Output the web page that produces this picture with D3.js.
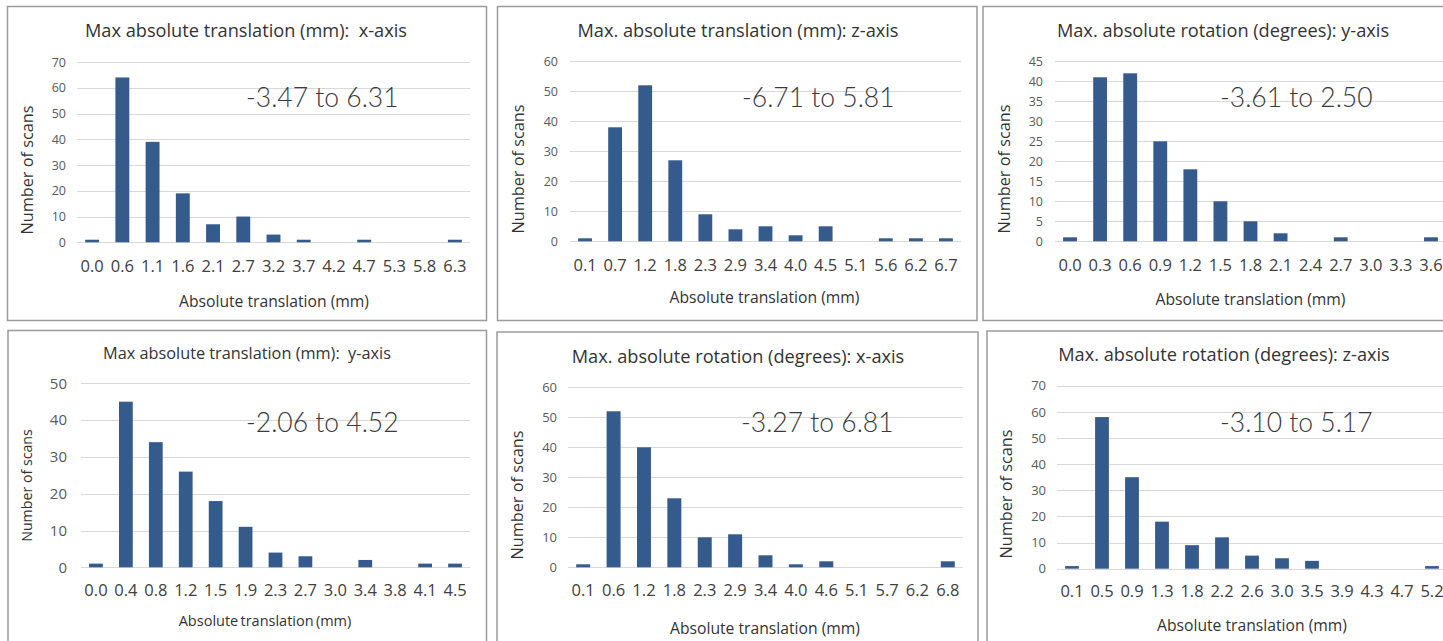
<!DOCTYPE html>
<html>
<head>
<meta charset="utf-8">
<script src="https://cdn.jsdelivr.net/npm/d3@7/dist/d3.min.js"></script>
<style>
  body { margin: 0; background: #fff; }
  svg text { font-family: "Open Sans", Lato, sans-serif; }
</style>
</head>
<body>
<div id="my_dataviz"></div>
<script>
// bin labels (x) and counts (y) for every histogram
var binsTransX   = ["0.0","0.6","1.1","1.6","2.1","2.7","3.2","3.7","4.2","4.7","5.3","5.8","6.3"];
var countsTransX = [1, 64, 39, 19, 7, 10, 3, 1, 0, 1, 0, 0, 1];
var ticksTransX  = [0, 10, 20, 30, 40, 50, 60, 70];

var binsTransZ   = ["0.1","0.7","1.2","1.8","2.3","2.9","3.4","4.0","4.5","5.1","5.6","6.2","6.7"];
var countsTransZ = [1, 38, 52, 27, 9, 4, 5, 2, 5, 0, 1, 1, 1];
var ticksTransZ  = [0, 10, 20, 30, 40, 50, 60];

var binsRotY     = ["0.0","0.3","0.6","0.9","1.2","1.5","1.8","2.1","2.4","2.7","3.0","3.3","3.6"];
var countsRotY   = [1, 41, 42, 25, 18, 10, 5, 2, 0, 1, 0, 0, 1];
var ticksRotY    = [0, 5, 10, 15, 20, 25, 30, 35, 40, 45];

var binsTransY   = ["0.0","0.4","0.8","1.2","1.5","1.9","2.3","2.7","3.0","3.4","3.8","4.1","4.5"];
var countsTransY = [1, 45, 34, 26, 18, 11, 4, 3, 0, 2, 0, 1, 1];
var ticksTransY  = [0, 10, 20, 30, 40, 50];

var binsRotX     = ["0.1","0.6","1.2","1.8","2.3","2.9","3.4","4.0","4.6","5.1","5.7","6.2","6.8"];
var countsRotX   = [1, 52, 40, 23, 10, 11, 4, 1, 2, 0, 0, 0, 2];
var ticksRotX    = [0, 10, 20, 30, 40, 50, 60];

var binsRotZ     = ["0.1","0.5","0.9","1.3","1.8","2.2","2.6","3.0","3.5","3.9","4.3","4.7","5.2"];
var countsRotZ   = [1, 58, 35, 18, 9, 12, 5, 4, 3, 0, 0, 0, 1];
var ticksRotZ    = [0, 10, 20, 30, 40, 50, 60, 70];

var titles = [
  "Max absolute translation (mm):  x-axis",
  "Max. absolute translation (mm): z-axis",
  "Max. absolute rotation (degrees): y-axis",
  "Max absolute translation (mm):  y-axis",
  "Max. absolute rotation (degrees): x-axis",
  "Max. absolute rotation (degrees): z-axis"
];
var ranges = ["-3.47 to 6.31", "-6.71 to 5.81", "-3.61 to 2.50", "-2.06 to 4.52", "-3.27 to 6.81", "-3.10 to 5.17"];
var xTitle = "Absolute translation (mm)";
var yTitle = "Number of scans";

var barColor = "#355b8d";

// layout of each panel (box = border, plot = l/r/top/bottom of the value area)
var panels = [
  { bins: binsTransX, counts: countsTransX, ticks: ticksTransX,
    box: [7.5, 6.5, 486.5, 320.5], plot: [77, 470, 62, 242.3],
    tx: 246, ty: 37, ts: 18.2, ax: 246, ay: 107, yl: 66, ys: 12.5, xly: 272, xs: 16.5,
    xtx: 274, xty: 307, xts: 15.7, xws: 0, ytx: 33, yty: 170, yts: 16.3 },
  { bins: binsTransZ, counts: countsTransZ, ticks: ticksTransZ,
    box: [497.5, 6.5, 977, 320.5], plot: [570, 961, 61.3, 241.3],
    tx: 738, ty: 37, ts: 18.2, ax: 742, ay: 107, yl: 558, ys: 12.5, xly: 271, xs: 16.5,
    xtx: 764.5, xty: 303, xts: 15.7, xws: 0, ytx: 524, yty: 169, yts: 16.3 },
  { bins: binsRotY, counts: countsRotY, ticks: ticksRotY,
    box: [983, 6.5, 1452, 320.5], plot: [1055, 1446, 61.3, 241.3],
    tx: 1223, ty: 37, ts: 18.2, ax: 1220, ay: 107, yl: 1043, ys: 12.5, xly: 271, xs: 16.5,
    xtx: 1250.5, xty: 305, xts: 15.7, xws: 0, ytx: 1010, yty: 169, yts: 16.3 },
  { bins: binsTransY, counts: countsTransY, ticks: ticksTransY,
    box: [8, 330.5, 486.5, 652], plot: [81, 470, 383.3, 567.3],
    tx: 247, ty: 359, ts: 16.3, ax: 246, ay: 432, yl: 67, ys: 15, xly: 596, xs: 16.5,
    xtx: 265, xty: 626, xts: 14.5, xws: -1.5, ytx: 32, yty: 485.5, yts: 14.2 },
  { bins: binsRotX, counts: countsRotX, ticks: ticksRotX,
    box: [497, 332, 978, 652], plot: [568, 963, 387.3, 567.3],
    tx: 738, ty: 363, ts: 18.2, ax: 741, ay: 432, yl: 557, ys: 13, xly: 596, xs: 16.5,
    xtx: 765, xty: 634, xts: 15.7, xws: 0, ytx: 523, yty: 495, yts: 16.3 },
  { bins: binsRotZ, counts: countsRotZ, ticks: ticksRotZ,
    box: [987, 331, 1452, 652], plot: [1057, 1447, 385.7, 568.7],
    tx: 1224, ty: 361, ts: 18.2, ax: 1220, ay: 432, yl: 1046, ys: 13, xly: 597, xs: 16.5,
    xtx: 1252, xty: 631, xts: 15.7, xws: 0, ytx: 1012, yty: 494, yts: 16.3 }
];

var svg = d3.select("#my_dataviz")
  .append("svg")
    .attr("width", 1443)
    .attr("height", 641);

panels.forEach(function(p, i) {
  var g = svg.append("g");

  // panel border
  g.append("rect")
    .attr("x", p.box[0])
    .attr("y", p.box[1])
    .attr("width", p.box[2] - p.box[0])
    .attr("height", p.box[3] - p.box[1])
    .attr("fill", "#fff")
    .attr("stroke", "#9b9b9b")
    .attr("stroke-width", 1.5);

  var x = d3.scaleBand()
    .domain(p.bins)
    .range([p.plot[0], p.plot[1]])
    .paddingInner(0.54)
    .paddingOuter(0.27);

  var y = d3.scaleLinear()
    .domain([0, d3.max(p.ticks)])
    .range([p.plot[3], p.plot[2]]);

  // gridlines
  g.selectAll(".grid")
    .data(p.ticks)
    .enter()
    .append("line")
      .attr("x1", p.plot[0])
      .attr("x2", p.plot[1])
      .attr("y1", function(d) { return Math.round(y(d)) + 0.5; })
      .attr("y2", function(d) { return Math.round(y(d)) + 0.5; })
      .attr("stroke", "#d9d9d9")
      .attr("stroke-width", 1);

  // y axis labels
  var yAxis = g.append("g")
    .attr("transform", "translate(" + (p.yl + 4) + ",0)")
    .call(d3.axisLeft(y).tickValues(p.ticks).tickSize(0).tickPadding(4));
  yAxis.select(".domain").remove();
  yAxis.selectAll("text")
    .attr("fill", "#595959")
    .style("font-size", p.ys + "px");

  // bars
  g.selectAll(".bar")
    .data(p.counts)
    .enter()
    .append("rect")
      .attr("x", function(d, j) { return x(p.bins[j]); })
      .attr("width", x.bandwidth())
      .attr("y", function(d) { return y(d); })
      .attr("height", function(d) { return y(0) - y(d); })
      .attr("fill", barColor);

  // x axis labels
  var xAxis = g.append("g")
    .attr("transform", "translate(0," + (p.xly - 12) + ")")
    .call(d3.axisBottom(x).tickSize(0).tickPadding(0));
  xAxis.select(".domain").remove();
  xAxis.selectAll("text")
    .attr("dy", "0.71em")
    .attr("fill", "#404040")
    .style("font-size", p.xs + "px");

  // titles
  g.append("text")
    .attr("x", p.tx)
    .attr("y", p.ty)
    .style("text-anchor", "middle")
    .style("white-space", "pre")
    .style("font-size", p.ts + "px")
    .attr("fill", "#333")
    .text(titles[i]);

  g.append("text")
    .attr("x", p.xtx)
    .attr("y", p.xty)
    .style("text-anchor", "middle")
    .style("font-size", p.xts + "px")
    .style("word-spacing", p.xws + "px")
    .attr("fill", "#333")
    .text(xTitle);

  g.append("text")
    .attr("transform", "translate(" + p.ytx + "," + p.yty + ")rotate(-90)")
    .style("text-anchor", "middle")
    .style("font-size", p.yts + "px")
    .attr("fill", "#333")
    .text(yTitle);

  // range annotation
  g.append("text")
    .attr("x", p.ax)
    .attr("y", p.ay)
    .style("font-family", "Lato, sans-serif")
    .style("font-size", "26.5px")
    .style("font-weight", 300)
    .attr("fill", "#3a3a3a")
    .text(ranges[i]);
});
</script>
</body>
</html>
